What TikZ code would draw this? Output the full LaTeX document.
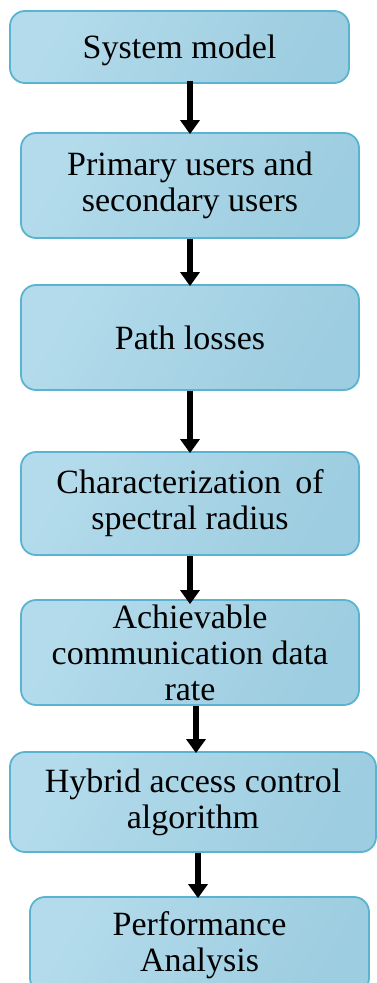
\documentclass[tikz,border=0pt]{standalone}
\usepackage{fontspec}
\setmainfont{Liberation Serif}
\newfontfamily\flowfont{Liberation Serif}
\usetikzlibrary{arrows.meta}
\definecolor{boxline}{HTML}{5AB4D0}
\definecolor{boxlight}{HTML}{B3DBEB}
\definecolor{boxdark}{HTML}{9DCDE0}
\tikzset{
  flowbox/.style={draw=boxline, line width=1.8pt, rounded corners=15pt,
    left color=boxlight, right color=boxdark, shading angle=60,
    align=center, inner sep=0pt,
    font=\flowfont\fontsize{34}{36}\selectfont},
  flowarrow/.style={line width=5.5pt, black,
    -{Triangle[width=19pt,length=14pt]}, shorten >=-2pt}
}
\begin{document}
\begin{tikzpicture}[x=1pt,y=-1pt]
\clip (0,0) rectangle (377,983);
\useasboundingbox (0,0) rectangle (377,983);
\fill[white] (0,0) rectangle (377,983);
\node[flowbox, minimum width=339pt, minimum height=72pt, text depth=0pt] (n1) at (179.5,47) {System model};
\node[flowbox, minimum width=338pt, minimum height=105pt] (n2) at (190,185.5) {Primary users and\\secondary users};
\node[flowbox, minimum width=338pt, minimum height=105pt] (n3) at (190,337.5) {Path losses};
\node[flowbox, minimum width=338pt, minimum height=103pt] (n4) at (190,503.5) {Characterization\ \,of\\spectral radius};
\node[flowbox, minimum width=338pt, minimum height=105pt] (n5) at (190,652.5) {Achievable\\communication data\\rate};
\node[flowbox, minimum width=366pt, minimum height=100pt] (n6) at (193,802) {Hybrid access control\\algorithm};
\node[flowbox, minimum width=339pt, minimum height=96pt] (n7) at (199.5,945) {Performance\\Analysis};
\draw[flowarrow] ([yshift=3pt]n1.south -| n2.north) -- (n2.north);
\draw[flowarrow] (n2.south) -- (n3.north);
\draw[flowarrow] (n3.south) -- (n4.north);
\draw[flowarrow] (n4.south) -- ([yshift=-3pt]n5.north);
\draw[flowarrow] ([xshift=6pt]n5.south) -- ([xshift=6pt]n5.south |- n6.north);
\draw[flowarrow] ([xshift=5pt]n6.south) -- ([xshift=5pt]n6.south |- n7.north);
\end{tikzpicture}
\end{document}
